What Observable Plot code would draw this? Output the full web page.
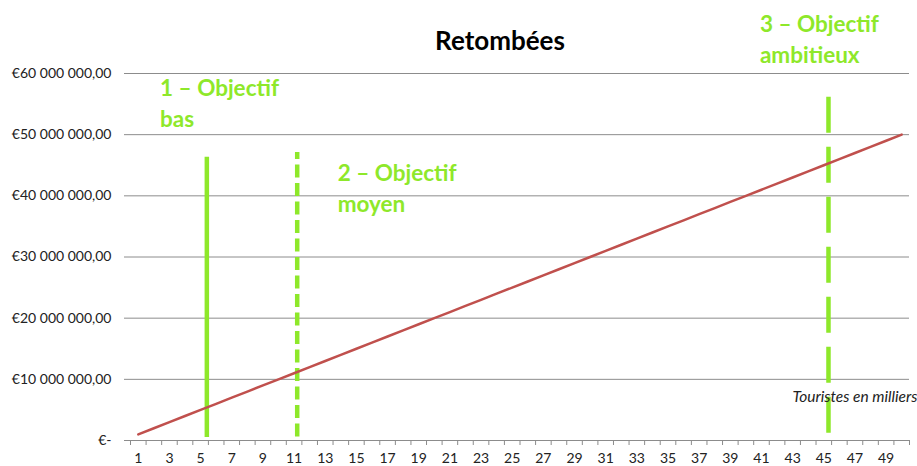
<!DOCTYPE html>
<html>
<head>
<meta charset="utf-8">
<script src="https://cdn.jsdelivr.net/npm/d3@7"></script>
<script src="https://cdn.jsdelivr.net/npm/@observablehq/plot@0.6"></script>
<style>
  html, body { margin: 0; padding: 0; background: #fff; }
  #chart svg { display: block; }
</style>
</head>
<body>
<div id="chart"></div>
<script>
// Tourists (thousands) and resulting revenue (€)
const tourists = [1,2,3,4,5,6,7,8,9,10,11,12,13,14,15,16,17,18,19,20,21,22,23,24,25,26,27,28,29,30,31,32,33,34,35,36,37,38,39,40,41,42,43,44,45,46,47,48,49,50];
const revenue = [1000000,2000000,3000000,4000000,5000000,6000000,7000000,8000000,9000000,10000000,11000000,12000000,13000000,14000000,15000000,16000000,17000000,18000000,19000000,20000000,21000000,22000000,23000000,24000000,25000000,26000000,27000000,28000000,29000000,30000000,31000000,32000000,33000000,34000000,35000000,36000000,37000000,38000000,39000000,40000000,41000000,42000000,43000000,44000000,45000000,46000000,47000000,48000000,49000000,50000000];

// Goals (vertical markers)
const goalNames = ["1 – Objectif\nbas", "2 – Objectif\nmoyen", "3 – Objectif\nambitieux"];
const goalX = [5.4, 11.2, 45.3];
const goalTop = [46300000, 47100000, 56100000];
const goalBottom = [500000, 500000, 500000];
const goalDash = [null, "13,5.5", "36,14"];
const goalDashOffset = [0, 6, 0];
// Label anchors (data units)
const goalLabelX = [2.4, 13.8, 40.9];
const goalLabelY = [59950000, 46000000, 70400000];

const yTicks = [0, 10000000, 20000000, 30000000, 40000000, 50000000, 60000000];
const xLabelTicks = tourists.filter(d => d % 2 === 1);
const xBoundaries = d3.range(0, 51).map(i => i + 0.5);

const title = "Retombées";
const xTitle = "Touristes en milliers";

const points = tourists.map((t, i) => ({t, v: revenue[i]}));
const goals = goalNames.map((name, i) => ({
  name, x: goalX[i], y1: goalBottom[i], y2: goalTop[i], dash: goalDash[i], offset: goalDashOffset[i],
  lx: goalLabelX[i], ly: goalLabelY[i]
}));

function euro(v) {
  if (v === 0) return "€-";
  const s = d3.format(",.2f")(v);
  const [int, dec] = s.split(".");
  return "€" + int.replace(/,/g, " ") + "," + dec;
}

const green = "#8ee82a";
const font = "Lato, 'Open Sans', sans-serif";

const goalRules = goals.map(g => Plot.ruleX([g], {
  x: "x", y1: "y2", y2: "y1", stroke: green, strokeWidth: 4.5,
  ...(g.dash ? { strokeDasharray: g.dash, strokeDashoffset: g.offset } : {})
}));

const chart = Plot.plot({
  width: 917,
  height: 466,
  marginTop: 73,
  marginBottom: 26,
  marginLeft: 130,
  marginRight: 8,
  style: { fontFamily: font, fontSize: "13px", color: "#222", background: "#fff", overflow: "visible" },
  x: { domain: [0.5, 50.5], axis: null },
  y: { domain: [0, 60000000], axis: null },
  marks: [
    Plot.ruleY(yTicks.filter(d => d > 0), { stroke: "#8c8c8c", strokeWidth: 1, strokeOpacity: 1 }),
    Plot.axisY({ ticks: yTicks, tickSize: 6, tickPadding: 13, tickFormat: euro, stroke: "#8c8c8c", fontSize: 14, label: null, strokeOpacity: 1 }),
    Plot.ruleY([0], { stroke: "#8c8c8c", strokeWidth: 1 }),
    Plot.axisX({ ticks: xBoundaries, tickSize: 5, tickFormat: () => "", stroke: "#8c8c8c", strokeOpacity: 1, label: null }),
    Plot.axisX({ ticks: xLabelTicks, tickSize: 0, tickPadding: 13, tickFormat: d => String(d), fontSize: 14, label: null }),
    ...goalRules,
    Plot.line(points, { x: "t", y: "v", stroke: "#c0504d", strokeWidth: 2.5 }),
    Plot.text(goals, { x: "lx", y: "ly", text: "name", fill: green, fontWeight: "bold", fontSize: 22.5, textAnchor: "start", lineAnchor: "top", lineHeight: 1.38, clip: false }),
    Plot.text([xTitle], { frameAnchor: "bottom-right", dy: -39, dx: 8, text: d => d, fontStyle: "italic", fontSize: 15.5, fill: "#222", textAnchor: "end" }),
    Plot.text([title], { frameAnchor: "top", dy: -42, dx: -20, text: d => d, fontWeight: "bold", fontSize: 26, fill: "#000" })
  ]
});
document.getElementById("chart").append(chart);
</script>
</body>
</html>
